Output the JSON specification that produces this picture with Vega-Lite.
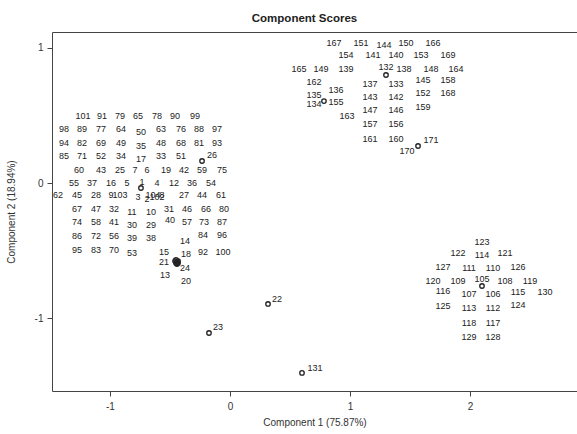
{
"$schema":"https://vega.github.io/schema/vega-lite/v6.json",
"width":525,"height":359,
"autosize":{"type":"none"},
"padding":{"left":52,"top":32,"right":0,"bottom":43},
"background":"white",
"title":{"text":"Component Scores","fontSize":11.5,"fontWeight":"bold","font":"Liberation Sans","color":"#222","offset":8,"dx":-10},
"config":{"view":{"stroke":null},
 "axis":{"grid":false,"labelFont":"Liberation Sans","labelFontSize":10,"labelColor":"#333","titleFont":"Liberation Sans","titleFontSize":10,"titleFontWeight":"normal","titleColor":"#333","domainColor":"#444","tickColor":"#444","tickSize":5}},
"data":{"values":[
{"id":"1","x":-0.742,"y":-0.037,"lx":-0.733,"ly":0.007},
{"id":"2","x":-0.742,"y":-0.037,"lx":-0.692,"ly":-0.119},
{"id":"3","x":-0.742,"y":-0.037,"lx":-0.767,"ly":-0.104},
{"id":"4","x":-0.742,"y":-0.037,"lx":-0.608,"ly":0},
{"id":"5","x":-0.742,"y":-0.037,"lx":-0.858,"ly":0},
{"id":"6","x":-0.742,"y":-0.037,"lx":-0.692,"ly":0.096},
{"id":"7","x":-0.742,"y":-0.037,"lx":-0.792,"ly":0.096},
{"id":"8","x":-0.742,"y":-0.037,"lx":-0.567,"ly":-0.089},
{"id":"9","x":-0.742,"y":-0.037,"lx":-0.992,"ly":-0.089},
{"id":"10","x":-0.742,"y":-0.037,"lx":-0.658,"ly":-0.215},
{"id":"11","x":-0.742,"y":-0.037,"lx":-0.817,"ly":-0.215},
{"id":"12","x":-0.742,"y":-0.037,"lx":-0.467,"ly":0},
{"id":"13","x":-0.442,"y":-0.585,"lx":-0.542,"ly":-0.681},
{"id":"14","x":-0.45,"y":-0.57,"lx":-0.375,"ly":-0.43},
{"id":"15","x":-0.458,"y":-0.578,"lx":-0.55,"ly":-0.511},
{"id":"16","x":-0.742,"y":-0.037,"lx":-0.992,"ly":0},
{"id":"17","x":-0.742,"y":-0.037,"lx":-0.742,"ly":0.178},
{"id":"18","x":-0.433,"y":-0.593,"lx":-0.367,"ly":-0.526},
{"id":"19","x":-0.742,"y":-0.037,"lx":-0.533,"ly":0.096},
{"id":"20","x":-0.442,"y":-0.6,"lx":-0.367,"ly":-0.726},
{"id":"21","x":-0.45,"y":-0.593,"lx":-0.55,"ly":-0.585},
{"id":"22","x":0.317,"y":-0.896,"lx":0.392,"ly":-0.859},
{"id":"23","x":-0.175,"y":-1.111,"lx":-0.1,"ly":-1.067},
{"id":"24","x":-0.433,"y":-0.578,"lx":-0.375,"ly":-0.63},
{"id":"25","x":-0.742,"y":-0.037,"lx":-0.917,"ly":0.096},
{"id":"26","x":-0.233,"y":0.163,"lx":-0.15,"ly":0.207},
{"id":"27","x":-0.742,"y":-0.037,"lx":-0.383,"ly":-0.089},
{"id":"28","x":-0.742,"y":-0.037,"lx":-1.117,"ly":-0.089},
{"id":"29","x":-0.742,"y":-0.037,"lx":-0.658,"ly":-0.311},
{"id":"30","x":-0.742,"y":-0.037,"lx":-0.817,"ly":-0.311},
{"id":"31","x":-0.742,"y":-0.037,"lx":-0.508,"ly":-0.193},
{"id":"32","x":-0.742,"y":-0.037,"lx":-0.967,"ly":-0.193},
{"id":"33","x":-0.742,"y":-0.037,"lx":-0.575,"ly":0.2},
{"id":"34","x":-0.742,"y":-0.037,"lx":-0.908,"ly":0.2},
{"id":"35","x":-0.742,"y":-0.037,"lx":-0.742,"ly":0.274},
{"id":"36","x":-0.742,"y":-0.037,"lx":-0.317,"ly":0},
{"id":"37","x":-0.742,"y":-0.037,"lx":-1.15,"ly":0},
{"id":"38","x":-0.742,"y":-0.037,"lx":-0.658,"ly":-0.407},
{"id":"39","x":-0.742,"y":-0.037,"lx":-0.817,"ly":-0.407},
{"id":"40","x":-0.742,"y":-0.037,"lx":-0.5,"ly":-0.274},
{"id":"41","x":-0.742,"y":-0.037,"lx":-0.967,"ly":-0.289},
{"id":"42","x":-0.742,"y":-0.037,"lx":-0.383,"ly":0.096},
{"id":"43","x":-0.742,"y":-0.037,"lx":-1.075,"ly":0.096},
{"id":"44","x":-0.742,"y":-0.037,"lx":-0.233,"ly":-0.089},
{"id":"45","x":-0.742,"y":-0.037,"lx":-1.275,"ly":-0.089},
{"id":"46","x":-0.742,"y":-0.037,"lx":-0.358,"ly":-0.193},
{"id":"47","x":-0.742,"y":-0.037,"lx":-1.117,"ly":-0.193},
{"id":"48","x":-0.742,"y":-0.037,"lx":-0.575,"ly":0.296},
{"id":"49","x":-0.742,"y":-0.037,"lx":-0.908,"ly":0.296},
{"id":"50","x":-0.742,"y":-0.037,"lx":-0.742,"ly":0.378},
{"id":"51","x":-0.742,"y":-0.037,"lx":-0.408,"ly":0.2},
{"id":"52","x":-0.742,"y":-0.037,"lx":-1.075,"ly":0.2},
{"id":"53","x":-0.742,"y":-0.037,"lx":-0.817,"ly":-0.519},
{"id":"54","x":-0.742,"y":-0.037,"lx":-0.158,"ly":0},
{"id":"55","x":-0.742,"y":-0.037,"lx":-1.3,"ly":0},
{"id":"56","x":-0.742,"y":-0.037,"lx":-0.967,"ly":-0.393},
{"id":"57","x":-0.742,"y":-0.037,"lx":-0.358,"ly":-0.289},
{"id":"58","x":-0.742,"y":-0.037,"lx":-1.117,"ly":-0.289},
{"id":"59","x":-0.742,"y":-0.037,"lx":-0.233,"ly":0.096},
{"id":"60","x":-0.742,"y":-0.037,"lx":-1.258,"ly":0.096},
{"id":"61","x":-0.742,"y":-0.037,"lx":-0.075,"ly":-0.089},
{"id":"62","x":-0.742,"y":-0.037,"lx":-1.433,"ly":-0.089},
{"id":"63","x":-0.742,"y":-0.037,"lx":-0.575,"ly":0.4},
{"id":"64","x":-0.742,"y":-0.037,"lx":-0.908,"ly":0.4},
{"id":"65","x":-0.742,"y":-0.037,"lx":-0.767,"ly":0.496},
{"id":"66","x":-0.742,"y":-0.037,"lx":-0.2,"ly":-0.193},
{"id":"67","x":-0.742,"y":-0.037,"lx":-1.275,"ly":-0.193},
{"id":"68","x":-0.742,"y":-0.037,"lx":-0.408,"ly":0.296},
{"id":"69","x":-0.742,"y":-0.037,"lx":-1.075,"ly":0.296},
{"id":"70","x":-0.742,"y":-0.037,"lx":-0.967,"ly":-0.496},
{"id":"71","x":-0.742,"y":-0.037,"lx":-1.233,"ly":0.2},
{"id":"72","x":-0.742,"y":-0.037,"lx":-1.117,"ly":-0.393},
{"id":"73","x":-0.742,"y":-0.037,"lx":-0.217,"ly":-0.289},
{"id":"74","x":-0.742,"y":-0.037,"lx":-1.275,"ly":-0.289},
{"id":"75","x":-0.742,"y":-0.037,"lx":-0.067,"ly":0.096},
{"id":"76","x":-0.742,"y":-0.037,"lx":-0.408,"ly":0.4},
{"id":"77","x":-0.742,"y":-0.037,"lx":-1.075,"ly":0.4},
{"id":"78","x":-0.742,"y":-0.037,"lx":-0.608,"ly":0.496},
{"id":"79","x":-0.742,"y":-0.037,"lx":-0.917,"ly":0.496},
{"id":"80","x":-0.742,"y":-0.037,"lx":-0.05,"ly":-0.193},
{"id":"81","x":-0.742,"y":-0.037,"lx":-0.258,"ly":0.296},
{"id":"82","x":-0.742,"y":-0.037,"lx":-1.233,"ly":0.296},
{"id":"83","x":-0.742,"y":-0.037,"lx":-1.117,"ly":-0.496},
{"id":"84","x":-0.742,"y":-0.037,"lx":-0.225,"ly":-0.385},
{"id":"85","x":-0.742,"y":-0.037,"lx":-1.383,"ly":0.2},
{"id":"86","x":-0.742,"y":-0.037,"lx":-1.275,"ly":-0.393},
{"id":"87","x":-0.742,"y":-0.037,"lx":-0.067,"ly":-0.289},
{"id":"88","x":-0.742,"y":-0.037,"lx":-0.258,"ly":0.4},
{"id":"89","x":-0.742,"y":-0.037,"lx":-1.233,"ly":0.4},
{"id":"90","x":-0.742,"y":-0.037,"lx":-0.458,"ly":0.496},
{"id":"91","x":-0.742,"y":-0.037,"lx":-1.067,"ly":0.496},
{"id":"92","x":-0.742,"y":-0.037,"lx":-0.225,"ly":-0.511},
{"id":"93","x":-0.742,"y":-0.037,"lx":-0.108,"ly":0.296},
{"id":"94","x":-0.742,"y":-0.037,"lx":-1.383,"ly":0.296},
{"id":"95","x":-0.742,"y":-0.037,"lx":-1.275,"ly":-0.496},
{"id":"96","x":-0.742,"y":-0.037,"lx":-0.067,"ly":-0.385},
{"id":"97","x":-0.742,"y":-0.037,"lx":-0.108,"ly":0.4},
{"id":"98","x":-0.742,"y":-0.037,"lx":-1.383,"ly":0.4},
{"id":"99","x":-0.742,"y":-0.037,"lx":-0.292,"ly":0.496},
{"id":"100","x":-0.742,"y":-0.037,"lx":-0.058,"ly":-0.511},
{"id":"101","x":-0.742,"y":-0.037,"lx":-1.225,"ly":0.496},
{"id":"102","x":-0.742,"y":-0.037,"lx":-0.608,"ly":-0.104},
{"id":"103","x":-0.742,"y":-0.037,"lx":-0.917,"ly":-0.089},
{"id":"104","x":-0.742,"y":-0.037,"lx":-0.642,"ly":-0.089},
{"id":"105","x":2.1,"y":-0.763,"lx":2.1,"ly":-0.711},
{"id":"106","x":2.1,"y":-0.763,"lx":2.192,"ly":-0.822},
{"id":"107","x":2.1,"y":-0.763,"lx":1.992,"ly":-0.822},
{"id":"108","x":2.1,"y":-0.763,"lx":2.292,"ly":-0.726},
{"id":"109","x":2.1,"y":-0.763,"lx":1.9,"ly":-0.726},
{"id":"110","x":2.1,"y":-0.763,"lx":2.192,"ly":-0.63},
{"id":"111","x":2.1,"y":-0.763,"lx":1.992,"ly":-0.63},
{"id":"112","x":2.1,"y":-0.763,"lx":2.192,"ly":-0.926},
{"id":"113","x":2.1,"y":-0.763,"lx":1.992,"ly":-0.926},
{"id":"114","x":2.1,"y":-0.763,"lx":2.1,"ly":-0.533},
{"id":"115","x":2.1,"y":-0.763,"lx":2.4,"ly":-0.807},
{"id":"116","x":2.1,"y":-0.763,"lx":1.775,"ly":-0.8},
{"id":"117","x":2.1,"y":-0.763,"lx":2.192,"ly":-1.037},
{"id":"118","x":2.1,"y":-0.763,"lx":1.992,"ly":-1.037},
{"id":"119","x":2.1,"y":-0.763,"lx":2.5,"ly":-0.726},
{"id":"120","x":2.1,"y":-0.763,"lx":1.692,"ly":-0.726},
{"id":"121","x":2.1,"y":-0.763,"lx":2.292,"ly":-0.519},
{"id":"122","x":2.1,"y":-0.763,"lx":1.9,"ly":-0.519},
{"id":"123","x":2.1,"y":-0.763,"lx":2.1,"ly":-0.437},
{"id":"124","x":2.1,"y":-0.763,"lx":2.4,"ly":-0.904},
{"id":"125","x":2.1,"y":-0.763,"lx":1.775,"ly":-0.911},
{"id":"126","x":2.1,"y":-0.763,"lx":2.4,"ly":-0.622},
{"id":"127","x":2.1,"y":-0.763,"lx":1.775,"ly":-0.622},
{"id":"128","x":2.1,"y":-0.763,"lx":2.192,"ly":-1.141},
{"id":"129","x":2.1,"y":-0.763,"lx":1.992,"ly":-1.141},
{"id":"130","x":2.1,"y":-0.763,"lx":2.625,"ly":-0.807},
{"id":"131","x":0.6,"y":-1.407,"lx":0.708,"ly":-1.37},
{"id":"132","x":1.3,"y":0.8,"lx":1.3,"ly":0.859},
{"id":"133","x":1.3,"y":0.8,"lx":1.383,"ly":0.733},
{"id":"134","x":0.783,"y":0.607,"lx":0.7,"ly":0.585},
{"id":"135","x":0.783,"y":0.607,"lx":0.7,"ly":0.652},
{"id":"136","x":1.3,"y":0.8,"lx":0.883,"ly":0.689},
{"id":"137","x":1.3,"y":0.8,"lx":1.167,"ly":0.733},
{"id":"138","x":1.3,"y":0.8,"lx":1.45,"ly":0.844},
{"id":"139","x":1.3,"y":0.8,"lx":0.967,"ly":0.844},
{"id":"140","x":1.3,"y":0.8,"lx":1.383,"ly":0.948},
{"id":"141","x":1.3,"y":0.8,"lx":1.192,"ly":0.948},
{"id":"142","x":1.3,"y":0.8,"lx":1.383,"ly":0.637},
{"id":"143","x":1.3,"y":0.8,"lx":1.167,"ly":0.637},
{"id":"144","x":1.3,"y":0.8,"lx":1.283,"ly":1.022},
{"id":"145","x":1.3,"y":0.8,"lx":1.608,"ly":0.763},
{"id":"146","x":1.3,"y":0.8,"lx":1.383,"ly":0.541},
{"id":"147","x":1.3,"y":0.8,"lx":1.167,"ly":0.541},
{"id":"148","x":1.3,"y":0.8,"lx":1.675,"ly":0.844},
{"id":"149","x":1.3,"y":0.8,"lx":0.758,"ly":0.844},
{"id":"150","x":1.3,"y":0.8,"lx":1.467,"ly":1.037},
{"id":"151","x":1.3,"y":0.8,"lx":1.092,"ly":1.037},
{"id":"152","x":1.3,"y":0.8,"lx":1.608,"ly":0.667},
{"id":"153","x":1.3,"y":0.8,"lx":1.592,"ly":0.948},
{"id":"154","x":1.3,"y":0.8,"lx":0.967,"ly":0.948},
{"id":"155","x":0.783,"y":0.607,"lx":0.883,"ly":0.6},
{"id":"156","x":1.3,"y":0.8,"lx":1.383,"ly":0.437},
{"id":"157","x":1.3,"y":0.8,"lx":1.167,"ly":0.437},
{"id":"158","x":1.3,"y":0.8,"lx":1.817,"ly":0.763},
{"id":"159","x":1.3,"y":0.8,"lx":1.608,"ly":0.563},
{"id":"160","x":1.3,"y":0.8,"lx":1.383,"ly":0.326},
{"id":"161","x":1.3,"y":0.8,"lx":1.167,"ly":0.326},
{"id":"162","x":1.3,"y":0.8,"lx":0.7,"ly":0.748},
{"id":"163","x":1.3,"y":0.8,"lx":0.975,"ly":0.496},
{"id":"164","x":1.3,"y":0.8,"lx":1.883,"ly":0.844},
{"id":"165","x":1.3,"y":0.8,"lx":0.575,"ly":0.844},
{"id":"166","x":1.3,"y":0.8,"lx":1.692,"ly":1.037},
{"id":"167","x":1.3,"y":0.8,"lx":0.867,"ly":1.037},
{"id":"168","x":1.3,"y":0.8,"lx":1.817,"ly":0.667},
{"id":"169","x":1.3,"y":0.8,"lx":1.817,"ly":0.948},
{"id":"170","x":1.567,"y":0.274,"lx":1.475,"ly":0.237},
{"id":"171","x":1.567,"y":0.274,"lx":1.675,"ly":0.319}
]},
"layer":[
 {"transform":[{"aggregate":[{"op":"count","as":"n"}],"groupby":["x","y"]}],
  "mark":{"type":"point","shape":"circle","filled":false,"size":20,"stroke":"#222","strokeWidth":1.3,"opacity":1},
  "encoding":{
   "x":{"field":"x","type":"quantitative","scale":{"domain":[-1.4833,2.8917],"nice":false,"zero":false},
        "axis":{"orient":"bottom","values":[-1,0,1,2],"labelExpr":"'' + datum.value","title":"Component 1 (75.87%)","labelPadding":5,"titlePadding":6}},
   "y":{"field":"y","type":"quantitative","scale":{"domain":[-1.5407,1.1185],"nice":false,"zero":false},
        "axis":{"orient":"left","values":[-1,0,1],"labelExpr":"'' + datum.value","title":"Component 2 (18.94%)","labelPadding":4,"titlePadding":18}}}},
 {"mark":{"type":"text","font":"Liberation Sans","fontSize":9,"color":"#222","baseline":"middle","align":"center"},
  "encoding":{
   "x":{"field":"lx","type":"quantitative","axis":{"orient":"top","labels":false,"ticks":false,"title":null,"domain":true}},
   "y":{"field":"ly","type":"quantitative","axis":null},
   "text":{"field":"id"}}}
],
"resolve":{"axis":{"x":"independent","y":"independent"}}
}
